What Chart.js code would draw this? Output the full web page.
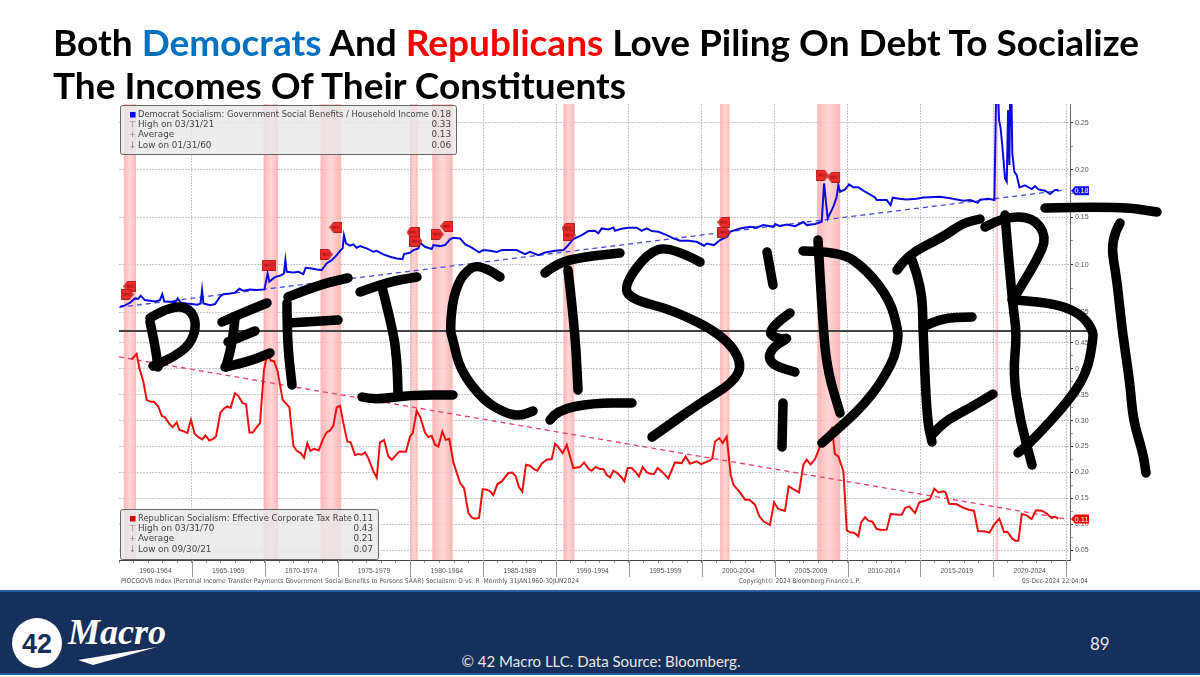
<!DOCTYPE html>
<html lang="en">
<head>
<meta charset="utf-8">
<title>Deficits and Debt</title>
<script src="https://cdn.jsdelivr.net/npm/chart.js@4"></script>
<style>
    html, body { margin: 0; padding: 0; background: #fff; overflow: hidden; }
    #page { position: relative; width: 1200px; height: 677px; overflow: hidden; }
    #title { position: absolute; left: 53px; top: 20px; font: 700 37px/43px Lato, sans-serif; color: #000; white-space: nowrap; }
    #title .dem { color: #0070c0; }
    #title .rep { color: #ff0000; }
    #chart { position: absolute; left: 0; top: 0; }
    #footer { position: absolute; left: 0; top: 590px; width: 1200px; height: 85px; background: #172f5b; border-top: 2px solid #2a5aa8; border-bottom: 2px solid #2a5aa8; box-sizing: border-box; }
    #copy { position: absolute; left: 451px; top: 652px; width: 300px; text-align: center; font: 400 15px/18px Lato, sans-serif; color: #e6e6e6; white-space: nowrap; }
    #pagenum { position: absolute; left: 1090px; top: 634px; font: 400 17px/20px Lato, sans-serif; color: #e6e6e6; }
    #logo { position: absolute; left: 0; top: 590px; }
</style>
</head>
<body>
<div id="page">
    <canvas id="chart" width="1200" height="590"></canvas>
    <div id="title">Both <span class="dem">Democrats</span> And <span class="rep">Republicans</span> Love Piling On Debt To Socialize<br>The Incomes Of Their Constituents</div>
    <div id="footer"></div>
    <svg id="logo" width="200" height="87" viewBox="0 0 200 87">
        <circle cx="37" cy="53" r="25" fill="#fff"></circle>
        <text x="37" y="63" text-anchor="middle" font-family="Liberation Sans" font-weight="700" font-size="27" fill="#172f5b">42</text>
        <text x="68" y="54" font-family="Liberation Serif" font-style="italic" font-weight="700" font-size="36" fill="#fff">Macro</text>
        <path d="M78 70 L157 57 L118 68 L93 75 Z" fill="#fff"></path>
    </svg>
    <div id="copy">© 42 Macro LLC. Data Source: Bloomberg.</div>
    <div id="pagenum">89</div>
</div>

<script>
// Democrat series: government social benefits / household income
const demYears = [1960.07,1960.41,1960.75,1961.10,1961.33,1961.49,1961.78,1962.13,1962.47,1962.81,1962.97,1963.11,1963.50,1963.89,1964.03,1964.23,1964.64,1964.99,1965.38,1965.60,1965.70,1965.79,1966.25,1966.59,1966.93,1967.16,1967.62,1967.96,1968.26,1968.53,1968.99,1969.45,1969.98,1970.20,1970.32,1970.59,1970.75,1971.16,1971.32,1971.42,1971.51,1971.97,1972.31,1972.65,1972.81,1973.22,1973.57,1973.91,1974.25,1974.60,1974.94,1975.21,1975.35,1975.44,1975.58,1975.86,1976.08,1976.31,1976.54,1977.00,1977.46,1977.69,1978.14,1978.60,1979.06,1979.47,1979.56,1979.97,1980.20,1980.55,1980.66,1981.00,1981.46,1981.58,1982.03,1982.38,1982.72,1982.95,1983.41,1983.75,1984.21,1984.71,1985.01,1985.47,1985.92,1986.27,1987.29,1987.87,1988.21,1988.78,1989.24,1989.93,1990.50,1990.73,1991.18,1991.76,1992.21,1992.67,1992.90,1993.13,1993.59,1993.93,1994.04,1994.50,1994.96,1995.53,1995.87,1996.22,1996.56,1997.02,1997.59,1998.05,1998.51,1999.08,1999.65,2000.15,2000.34,2000.84,2001.25,2001.75,2001.94,2002.62,2003.31,2003.77,2004.23,2004.91,2005.03,2005.37,2005.83,2006.40,2006.97,2007.20,2007.77,2008.23,2008.39,2008.64,2009.03,2009.26,2009.37,2009.49,2009.83,2010.11,2010.40,2010.75,2011.20,2011.89,2012.00,2012.69,2012.96,2013.10,2013.56,2014.06,2014.75,2015.21,2016.35,2017.04,2017.95,2018.41,2018.94,2019.10,2019.67,2020.08,2020.24,2020.40,2020.51,2020.63,2020.81,2020.93,2021.02,2021.11,2021.20,2021.31,2021.45,2021.61,2021.80,2022.18,2022.64,2022.87,2023.10,2023.56,2023.90,2024.24,2024.47];
const demValues = [.0556,.0570,.0598,.0644,.0640,.0672,.0626,.0619,.0612,.0626,.0689,.0612,.0608,.0605,.0644,.0601,.0591,.0584,.0577,.0591,.0732,.0591,.0573,.0584,.0661,.0689,.0696,.0703,.0746,.0725,.0739,.0732,.0739,.0908,.0820,.0855,.0872,.0890,.0908,.1048,.0925,.0918,.0925,.0901,.0967,.0960,.0950,.0943,.1013,.1048,.1101,.1154,.1172,.1312,.1224,.1200,.1214,.1179,.1196,.1172,.1136,.1147,.1108,.1084,.1066,.1059,.1112,.1126,.1154,.1172,.1231,.1189,.1165,.1207,.1196,.1207,.1267,.1284,.1277,.1217,.1179,.1129,.1154,.1147,.1133,.1154,.1154,.1112,.1136,.1101,.1129,.1147,.1154,.1189,.1270,.1312,.1355,.1358,.1330,.1383,.1372,.1393,.1358,.1379,.1390,.1390,.1358,.1383,.1355,.1348,.1312,.1277,.1253,.1253,.1242,.1200,.1224,.1207,.1260,.1295,.1348,.1383,.1400,.1393,.1418,.1400,.1429,.1407,.1425,.1407,.1450,.1418,.1429,.1453,.1858,.1488,.1612,.1717,.1840,.1770,.1795,.1847,.1816,.1816,.1770,.1710,.1682,.1682,.1629,.1707,.1696,.1689,.1696,.1710,.1717,.1700,.1675,.1682,.1654,.1686,.1696,.1682,.32,.2527,.2439,.2245,.1911,.1876,.2632,.2052,.33,.2175,.1981,.1946,.1816,.1837,.1798,.1830,.1795,.1781,.1745,.1788,.1788];

// Republican series: effective corporate tax rate
const repYears = [1960.87,1961.21,1961.40,1961.67,1961.90,1962.13,1962.40,1962.70,1962.93,1963.16,1963.45,1963.68,1963.96,1964.14,1964.46,1964.69,1964.94,1965.19,1965.45,1965.72,1965.93,1966.20,1966.43,1966.66,1966.96,1967.21,1967.44,1967.66,1967.96,1968.19,1968.49,1968.72,1968.95,1969.18,1969.45,1969.68,1969.95,1970.18,1970.41,1970.64,1970.89,1971.23,1971.69,1971.97,1972.19,1972.47,1972.70,1972.93,1973.13,1973.38,1973.70,1974.03,1974.25,1974.48,1974.71,1974.94,1975.17,1975.40,1975.67,1975.90,1976.20,1976.43,1976.66,1976.89,1977.11,1977.46,1977.69,1977.91,1978.19,1978.49,1978.72,1979.01,1979.24,1979.70,1979.97,1980.16,1980.43,1980.66,1981.00,1981.23,1981.46,1981.69,1981.92,1982.19,1982.42,1982.67,1982.95,1983.41,1983.68,1983.98,1984.21,1984.44,1984.71,1984.96,1985.24,1985.47,1985.69,1985.97,1986.27,1986.72,1987.00,1987.23,1987.45,1987.68,1987.93,1988.21,1988.48,1988.71,1989.01,1989.35,1989.70,1989.93,1990.15,1990.45,1990.73,1991.18,1991.64,1991.92,1992.24,1992.44,1992.72,1993.01,1993.24,1993.47,1993.70,1993.93,1994.20,1994.50,1994.68,1994.91,1995.19,1995.46,1995.69,1995.94,1996.22,1996.45,1996.72,1996.97,1997.36,1997.70,1998.16,1998.62,1998.89,1999.19,1999.65,1999.95,2000.56,2000.72,2000.91,2001.20,2001.43,2001.71,2001.98,2002.17,2002.62,2002.97,2003.26,2003.65,2003.95,2004.23,2004.68,2004.96,2005.25,2005.71,2005.96,2006.28,2006.67,2006.97,2007.20,2007.47,2007.77,2008.11,2008.46,2008.92,2009.14,2009.37,2009.72,2009.95,2010.17,2010.45,2010.75,2010.93,2011.20,2011.43,2011.71,2012.00,2012.35,2012.69,2012.96,2013.56,2013.72,2013.95,2014.24,2014.63,2014.93,2015.32,2015.66,2015.96,2016.24,2016.58,2016.74,2016.97,2017.49,2017.95,2018.34,2018.68,2018.96,2019.37,2019.74,2020.06,2020.42,2020.74,2020.97,2021.31,2021.50,2021.73,2021.96,2022.30,2022.64,2022.94,2023.33,2023.63,2024.01,2024.24,2024.47];
const repValues = [.4185,.4288,.4011,.3754,.3401,.3368,.3362,.3272,.3092,.3060,.2938,.2873,.2963,.2822,.2790,.2758,.3015,.2745,.2680,.2635,.2713,.2616,.2642,.2693,.3156,.3233,.3272,.3246,.3529,.3478,.3336,.3317,.2770,.2770,.2873,.2950,.3979,.4288,.4159,.4146,.3947,.3401,.3259,.2513,.2417,.2372,.2282,.2565,.2417,.2455,.2423,.2661,.2770,.2809,.2899,.3253,.3285,.2950,.2597,.2578,.2333,.2352,.2340,.2385,.2275,.2018,.1896,.2578,.2623,.2308,.2243,.2333,.2404,.2398,.2693,.2758,.3188,.3079,.2770,.2680,.2706,.2533,.2500,.2790,.2629,.2648,.2192,.1793,.1697,.1214,.1131,.1105,.1118,.1677,.1665,.1632,.1562,.1774,.1825,.1986,.1995,.1922,.1716,.1626,.2147,.2127,.2063,.2031,.2166,.2243,.2256,.2552,.2488,.2372,.2533,.2082,.2102,.2192,.2063,.2031,.2102,.2063,.2063,.1954,.1902,.2031,.1986,.1902,.1825,.2082,.2082,.2005,.1922,.2102,.2005,.1973,.1967,.2082,.1986,.1883,.2192,.2179,.2308,.2166,.2211,.2160,.2230,.2269,.2597,.2661,.2565,.2693,.1954,.1761,.1613,.1472,.1472,.1375,.1150,.1054,.0983,.1420,.1292,.1253,.1729,.1677,.1613,.2147,.2243,.2153,.2256,.2500,.2693,.2854,.2352,.2308,.2018,.0880,.0841,.0835,.0764,.1034,.1131,.1067,.1047,.0906,.0886,.0893,.1195,.1182,.1182,.1311,.1343,.1214,.1420,.1452,.1484,.1684,.1613,.1632,.1613,.1394,.1382,.1317,.1279,.1259,.0861,.0861,.0835,.0989,.1105,.0848,.0854,.0719,.0681,.0681,.1195,.1169,.1099,.1266,.1259,.1214,.1118,.1143,.1105];

// Trend lines
const trendYears = [1960, 2025];
const demTrend = [0.055, 0.179];
const repTrend = [0.423, 0.110];

// US recessions
const recessionStart = [1960.33, 1969.92, 1973.83, 1980.0, 1981.5, 1990.5, 2001.25, 2007.92, 2020.17];
const recessionEnd = [1961.17, 1970.92, 1975.25, 1980.5, 1982.9, 1991.25, 2001.9, 2009.5, 2020.33];

// REC flags on the Democrat series
const recInYears = [1960.55, 1970.23, 1974.21, 1980.38, 1981.83, 1990.89, 2001.52, 2008.25];
const recInValues = [.0687, .0994, .1110, .1247, .1321, .1311, .1342, .1945];
const recOutYears = [1960.75, 1970.36, 1974.89, 1980.18, 1982.51, 1990.82, 2001.52, 2009.07];
const recOutValues = [.0772, .0994, .1395, .1342, .1406, .1385, .1448, .1924];

// Axis ticks and labels
const periodCenters = [1962.5, 1967.5, 1972.5, 1977.5, 1982.5, 1987.5, 1992.5, 1997.5, 2002.5, 2007.5, 2012.5, 2017.5, 2022.5];
const periodLabels = ['1960-1964', '1965-1969', '1970-1974', '1975-1979', '1980-1984', '1985-1989', '1990-1994', '1995-1999', '2000-2004', '2005-2009', '2010-2014', '2015-2019', '2020-2024'];
const periodEdges = [1965, 1970, 1975, 1980, 1985, 1990, 1995, 2000, 2005, 2010, 2015, 2020, 2025];
const demTicks = [0.05, 0.075, 0.10, 0.125, 0.15, 0.175, 0.20, 0.225, 0.25];
const repTicks = [0.05, 0.075, 0.10, 0.125, 0.15, 0.175, 0.20, 0.225, 0.25, 0.275, 0.30, 0.325, 0.35, 0.375, 0.40, 0.425, 0.45];

// Last value tags
const demLast = 0.178;
const repLast = 0.11;

// Legend boxes
const demLegendNames = ['Democrat Socialism: Government Social Benefits / Household Income', 'High on 03/31/21', 'Average', 'Low on 01/31/60'];
const demLegendValues = ['0.18', '0.33', '0.13', '0.06'];
const repLegendNames = ['Republican Socialism: Effective Corporate Tax Rate', 'High on 03/31/70', 'Average', 'Low on 09/30/21'];
const repLegendValues = ['0.11', '0.43', '0.21', '0.07'];

// Bloomberg source lines
const sourceLine = 'PIOCGOVB Index (Personal Income Transfer Payments Government Social Benefits to Persons SAAR) Socialism: D vs. R  Monthly 31JAN1960-30JUN2024';
const copyrightLine = 'Copyright© 2024 Bloomberg Finance L.P.';
const stampLine = '05-Dec-2024 22:04:04';

// Hand drawn "DEFICITS & DEBT" written over the chart, in page pixels
const penStrokes = [
    [[150,322],[155,345],[158,367]],
    [[150,318],[170,306],[190,308],[197,325],[190,345],[172,358],[153,366]],
    [[222,322],[245,312],[267,303]],
    [[235,318],[233,340],[226,367]],
    [[228,342],[255,331]],
    [[225,367],[248,362],[270,353]],
    [[288,297],[318,285],[348,278]],
    [[287,303],[287,340],[292,385]],
    [[288,323],[338,320]],
    [[360,292],[387,282],[417,277]],
    [[382,287],[393,330],[397,360],[398,393]],
    [[362,397],[373,400],[410,395],[453,395]],
    [[500,277],[480,263],[463,273],[453,297],[450,330],[453,340],[460,370],[483,400],[505,413],[520,416],[533,411]],
    [[545,273],[557,263],[583,257],[620,253]],
    [[568,270],[575,330],[578,390]],
    [[550,420],[557,410],[593,403],[632,403]],
    [[700,262],[670,246],[647,253],[623,287],[633,300],[673,310],[723,335],[743,363],[733,383],[700,403],[652,437]],
    [[767,252],[773,285]],
    [[790,313],[766,330],[778,340],[790,337],[773,347],[768,358],[775,366],[795,372]],
    [[783,403],[782,447]],
    [[818,240],[823,330],[828,373],[840,413]],
    [[803,251],[840,251],[867,270],[890,300],[898,330],[898,340],[893,363],[867,403],[822,443]],
    [[897,270],[907,255],[943,237],[963,223],[980,219]],
    [[912,260],[922,287],[923,330],[927,420],[932,442]],
    [[923,327],[940,318],[972,317]],
    [[932,435],[943,422],[970,408],[993,394]],
    [[985,227],[1003,217],[1033,217],[1047,237],[1037,260],[1017,293]],
    [[1005,215],[1012,300],[1017,335],[1013,373],[1020,420],[1032,465]],
    [[1012,300],[1050,302],[1080,313],[1093,330],[1093,340],[1087,373],[1067,403],[1033,440],[1018,453]],
    [[1045,208],[1117,206],[1157,212]],
    [[1120,223],[1110,240],[1117,280],[1122,330],[1130,383],[1133,420],[1143,453],[1146,473]]
];

function zip(xs, ys) {
    return xs.map((x, i) => ({ x: x, y: ys[i] }));
}

// Small red REC flag used as the point picture
function makeFlag(pointLeft) {
    const c = document.createElement('canvas');
    c.width = 13;
    c.height = 11;
    const g = c.getContext('2d');
    g.beginPath();
    if (pointLeft) {
        g.moveTo(0.5, 5.5); g.lineTo(4, 0.5); g.lineTo(12.5, 0.5); g.lineTo(12.5, 10.5); g.lineTo(4, 10.5);
    } else {
        g.moveTo(12.5, 5.5); g.lineTo(9, 0.5); g.lineTo(0.5, 0.5); g.lineTo(0.5, 10.5); g.lineTo(9, 10.5);
    }
    g.closePath();
    g.fillStyle = '#ee2a2a';
    g.fill();
    g.strokeStyle = '#a82020';
    g.stroke();
    g.fillStyle = '#6a1010';
    g.font = '4px "DejaVu Sans"';
    g.textAlign = 'center';
    g.fillText('REC', 6.5, 7);
    return c;
}

// Recession bands behind the lines
const bandsPlugin = {
    id: 'bands',
    beforeDatasetsDraw(chart) {
        const ctx = chart.ctx, area = chart.chartArea, xs = chart.scales.x;
        recessionStart.forEach((start, i) => {
            const x0 = xs.getPixelForValue(start), x1 = xs.getPixelForValue(recessionEnd[i]);
            const grad = ctx.createLinearGradient(x0, 0, x1, 0);
            grad.addColorStop(0, 'rgba(252,170,170,0.85)');
            grad.addColorStop(0.5, 'rgba(255,208,208,0.85)');
            grad.addColorStop(1, 'rgba(252,170,170,0.85)');
            ctx.fillStyle = grad;
            ctx.fillRect(x0, area.top, x1 - x0, area.bottom - area.top);
        });
    }
};

function drawLegend(ctx, box, names, values, swatch) {
    ctx.save();
    ctx.fillStyle = 'rgba(232,232,232,0.82)';
    ctx.strokeStyle = '#666';
    ctx.lineWidth = 1;
    ctx.beginPath();
    ctx.roundRect(box.x + 0.5, box.y + 0.5, box.w, box.h, 2);
    ctx.fill();
    ctx.stroke();

    ctx.font = '8.8px "DejaVu Sans"';
    ctx.textBaseline = 'middle';
    const icons = ['', '⊤', '+', '↓'];
    names.forEach((name, i) => {
        const y = box.y + 9.5 + i * 10.25;
        ctx.fillStyle = '#444';
        ctx.textAlign = 'left';
        ctx.fillText(name, box.x + 18, y, box.nameW);
        ctx.textAlign = 'right';
        ctx.fillText(values[i], box.x + box.w - 5, y);
        if (i === 0) {
            ctx.fillStyle = swatch;
            ctx.fillRect(box.x + 10, y - 2.5, 5.5, 5.5);
        } else {
            ctx.fillStyle = '#888';
            ctx.textAlign = 'center';
            ctx.fillText(icons[i], box.x + 12.5, y);
        }
    });
    ctx.restore();
}

function drawTag(ctx, x, y, text, color) {
    ctx.save();
    ctx.fillStyle = color;
    ctx.beginPath();
    ctx.moveTo(x, y);
    ctx.lineTo(x + 4, y - 4.5);
    ctx.lineTo(x + 18, y - 4.5);
    ctx.lineTo(x + 18, y + 4.5);
    ctx.lineTo(x + 4, y + 4.5);
    ctx.closePath();
    ctx.fill();
    ctx.fillStyle = '#fff';
    ctx.font = '8px "Liberation Sans"';
    ctx.textAlign = 'left';
    ctx.textBaseline = 'middle';
    ctx.fillText(text, x + 3.5, y + 0.5, 14);
    ctx.restore();
}

// Smooth marker stroke through the listed points
function drawPen(ctx, pts) {
    ctx.beginPath();
    ctx.moveTo(pts[0][0], pts[0][1]);
    for (let i = 1; i < pts.length - 1; i++) {
        const mx = (pts[i][0] + pts[i + 1][0]) / 2, my = (pts[i][1] + pts[i + 1][1]) / 2;
        ctx.quadraticCurveTo(pts[i][0], pts[i][1], mx, my);
    }
    const last = pts[pts.length - 1];
    ctx.lineTo(last[0], last[1]);
    ctx.stroke();
}

// Everything on top of the lines: divider, legends, tags, footer lines, marker
const overlayPlugin = {
    id: 'overlay',
    afterDraw(chart) {
        const ctx = chart.ctx, area = chart.chartArea, xs = chart.scales.x;
        const yDem = chart.scales.yDem, yRep = chart.scales.yRep;

        ctx.save();
        // divider between the two panels
        ctx.strokeStyle = '#444';
        ctx.lineWidth = 2;
        ctx.beginPath();
        ctx.moveTo(area.left, yDem.bottom);
        ctx.lineTo(1089, yDem.bottom);
        ctx.stroke();

        // long separators under the time axis
        ctx.strokeStyle = '#999';
        ctx.lineWidth = 1;
        periodEdges.forEach(year => {
            const x = Math.round(xs.getPixelForValue(year)) + 0.5;
            ctx.beginPath();
            ctx.moveTo(x, area.bottom);
            ctx.lineTo(x, area.bottom + 17);
            ctx.stroke();
        });

        drawLegend(ctx, { x: 120, y: 105, w: 336, h: 49, nameW: 291 }, demLegendNames, demLegendValues, '#0000e0');
        drawLegend(ctx, { x: 120, y: 509, w: 258, h: 50, nameW: 214 }, repLegendNames, repLegendValues, '#e00000');

        drawTag(ctx, 1071, yDem.getPixelForValue(demLast), demLast.toFixed(2), '#1414e6');
        drawTag(ctx, 1071, yRep.getPixelForValue(repLast), repLast.toFixed(2), '#ee0000');

        // source lines
        ctx.fillStyle = '#555';
        ctx.font = '6.6px "DejaVu Sans"';
        ctx.textAlign = 'left';
        ctx.textBaseline = 'middle';
        ctx.fillText(sourceLine, 121, 581.5, 458);
        ctx.fillText(copyrightLine, 739, 581.5, 121);
        ctx.fillText(stampLine, 1022, 581.5, 66);

        // marker pen
        ctx.strokeStyle = '#000';
        ctx.lineWidth = 9.5;
        ctx.lineCap = 'round';
        ctx.lineJoin = 'round';
        penStrokes.forEach(pts => drawPen(ctx, pts));
        ctx.restore();
    }
};

function majorTick(value) {
    return Math.round(value * 1000) % 50 === 0;
}

function yAxis(stackWeight, min, max, ticks, weight) {
    return {
        type: 'linear',
        position: 'right',
        stack: 'panels',
        stackWeight: stackWeight,
        weight: weight,
        min: min,
        max: max,
        afterBuildTicks(scale) { scale.ticks = ticks.map(v => ({ value: v })); },
        afterFit(scale) { scale.width = 130; },
        border: { color: '#666', dash: [2, 1] },
        grid: {
            color: c => majorTick(c.tick.value) ? '#c6c6c6' : 'transparent',
            tickColor: c => majorTick(c.tick.value) ? '#333' : '#999',
            tickLength: 3,
            lineWidth: 1
        },
        ticks: {
            color: '#555',
            padding: 2,
            autoSkip: false,
            font: { family: 'Liberation Sans', size: 7 },
            callback: v => majorTick(v) ? v.toFixed(2) : ''
        }
    };
}

const yearTicks = [];
for (let y = 1960; y <= 2025; y++) yearTicks.push(y);

new Chart(document.getElementById('chart').getContext('2d'), {
    type: 'line',
    data: {
        datasets: [
            { label: 'REC in', type: 'scatter', yAxisID: 'yDem', data: zip(recInYears, recInValues), pointStyle: makeFlag(false), showLine: false },
            { label: 'REC out', type: 'scatter', yAxisID: 'yDem', data: zip(recOutYears, recOutValues), pointStyle: makeFlag(true), showLine: false },
            { label: 'Democrat Socialism', yAxisID: 'yDem', data: zip(demYears, demValues), borderColor: '#0a0ae0', borderWidth: 2, pointRadius: 0, tension: 0 },
            { label: 'Republican Socialism', yAxisID: 'yRep', data: zip(repYears, repValues), borderColor: '#ee1010', borderWidth: 2, pointRadius: 0, tension: 0 },
            { label: 'Democrat trend', yAxisID: 'yDem', data: zip(trendYears, demTrend), borderColor: '#4a4ad8', borderWidth: 1.3, borderDash: [5, 4], pointRadius: 0 },
            { label: 'Republican trend', yAxisID: 'yRep', data: zip(trendYears, repTrend), borderColor: '#e8406a', borderWidth: 1.3, borderDash: [5, 4], pointRadius: 0 }
        ]
    },
    options: {
        responsive: false,
        animation: false,
        layout: { padding: { left: 119, top: 104, right: 0, bottom: 0 } },
        plugins: { legend: { display: false }, tooltip: { enabled: false } },
        scales: {
            x: {
                type: 'linear',
                min: 1960,
                max: 2025.27,
                afterBuildTicks(scale) {
                    scale.ticks = yearTicks.concat(periodCenters).sort((a, b) => a - b).map(v => ({ value: v }));
                },
                afterFit(scale) { scale.height = 30; },
                border: { color: '#444', dash: [2, 1] },
                grid: {
                    color: c => periodEdges.includes(c.tick.value) ? '#c6c6c6' : 'transparent',
                    tickColor: c => Number.isInteger(c.tick.value) ? '#888' : 'transparent',
                    tickLength: 3,
                    lineWidth: 1
                },
                ticks: {
                    color: '#555',
                    padding: 4,
                    autoSkip: false,
                    maxRotation: 0,
                    font: { family: 'Liberation Sans', size: 6.8 },
                    callback: v => {
                        const i = periodCenters.indexOf(v);
                        return i >= 0 ? periodLabels[i] : '';
                    }
                }
            },
            yDem: yAxis(227, 0.03, 0.2696, demTicks, 1),
            yRep: yAxis(229, 0.0307, 0.473, repTicks, 2)
        }
    },
    plugins: [bandsPlugin, overlayPlugin]
});
</script>
</body>
</html>
